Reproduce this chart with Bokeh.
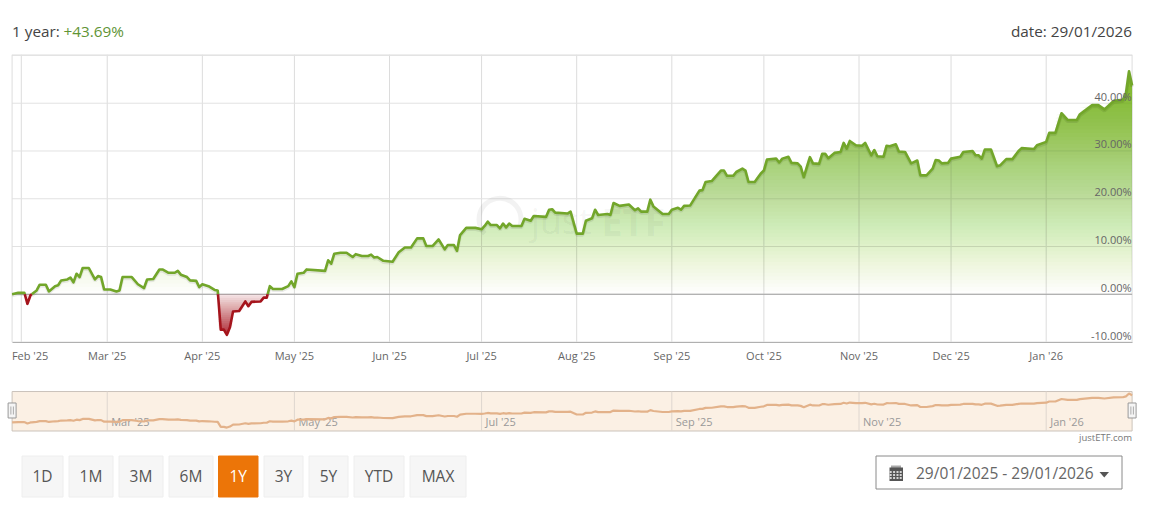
from datetime import datetime, timedelta
import numpy as np
from bokeh.embed import file_html
from bokeh.resources import INLINE
from bokeh.plotting import figure
from bokeh.layouts import column
from bokeh.models import Range1d, FixedTicker
from bokeh.core.properties import value

START = datetime(2025, 1, 29)
days = [0,2,4,5,6,8,9,11,12,14,15,16,18,19,20,21,22,23,25,27,28,29,30,32,34,35,36,39,41,43,44,46,48,49,51,53,54,55,57,58,60,61,62,64,66,67,
        68,69,70,71,72,74,76,77,78,81,82,83,84,85,88,90,91,92,93,95,96,102,103,104,105,107,109,111,112,114,116,117,118,119,121,124,126,128,130,
        132,134,135,137,139,141,142,144,145,146,148,151,153,154,155,156,158,159,160,161,162,163,166,167,169,170,174,175,176,177,181,182,184,186,
        187,189,190,191,194,195,196,198,201,203,204,205,207,208,209,212,214,215,217,218,219,221,224,225,226,228,231,232,233,235,236,238,239,240,
        242,244,245,246,249,250,251,253,254,256,257,258,260,261,263,264,265,266,268,270,271,272,273,275,277,278,280,281,282,284,285,286,288,289,
        291,293,295,296,298,300,301,302,303,305,306,309,310,313,314,315,316,317,319,321,322,324,326,328,329,333,334,337,338,340,342,344,347,348,
        352,354,356,359,362,363,364,365]
pct = [0.0,0.3,0.3,-2.0,-0.2,0.8,2.0,2.0,0.6,1.7,1.9,2.9,3.1,3.5,2.5,4.3,3.6,5.5,5.5,3.1,3.8,3.6,1.0,1.0,0.6,0.8,3.6,3.6,2.1,1.3,3.1,3.2,5.2,5.2,4.5,4.5,4.9,4.1,3.6,2.9,2.8,1.5,2.1,1.7,0.9,0.8,
       -7.4,-7.4,-8.5,-6.9,-3.6,-3.5,-1.5,-2.5,-1.6,-1.5,-0.7,-0.7,1.7,1.1,1.1,1.7,2.7,1.5,4.3,4.5,5.2,4.9,7.1,6.4,8.5,8.7,8.7,7.8,8.4,8.0,8.0,8.3,7.7,7.8,7.0,6.8,8.8,9.8,9.8,
       11.7,11.7,10.1,10.1,11.5,9.4,10.3,10.3,9.1,12.4,13.9,13.9,13.6,14.3,15.2,14.5,14.5,13.8,14.8,14.0,14.8,14.3,14.3,15.8,15.4,16.4,16.2,17.7,17.8,17.1,16.9,17.3,12.7,12.7,
       15.4,15.9,17.7,16.6,16.8,16.6,19.1,18.5,18.8,17.6,18.0,17.3,17.3,19.8,18.4,16.8,16.8,17.7,18.1,17.7,18.5,18.6,21.7,21.8,23.5,23.7,25.9,25.9,24.8,24.8,25.6,26.3,25.9,23.5,
       23.5,25.3,25.9,28.2,28.4,27.6,28.4,28.8,27.5,27.4,26.7,24.5,28.7,27.4,27.3,29.4,29.4,28.5,29.6,29.8,31.7,30.5,32.1,31.2,31.1,31.7,29.1,30.2,28.9,28.8,31.1,31.0,31.4,29.9,
       29.8,27.4,28.0,24.9,24.9,26.3,28.1,28.0,27.4,27.5,28.4,28.8,29.8,30.0,29.1,29.1,28.4,30.3,30.3,26.8,27.0,28.3,28.3,30.0,30.6,30.4,31.2,31.9,33.8,33.8,37.9,36.5,36.5,37.7,
       39.6,39.6,38.7,40.5,40.7,42.1,46.7,43.7]
month_dates = [datetime(2025,2,1),datetime(2025,3,1),datetime(2025,4,1),datetime(2025,5,1),datetime(2025,6,1),datetime(2025,7,1),
               datetime(2025,8,1),datetime(2025,9,1),datetime(2025,10,1),datetime(2025,11,1),datetime(2025,12,1),datetime(2026,1,1)]
month_labels = ["Feb '25","Mar '25","Apr '25","May '25","Jun '25","Jul '25","Aug '25","Sep '25","Oct '25","Nov '25","Dec '25","Jan '26"]
y_ticks = [-10,0,10,20,30,40]
y_labels = ["-10.00%","0.00%","10.00%","20.00%","30.00%","40.00%"]
buttons = ["1D","1M","3M","6M","1Y","3Y","5Y","YTD","MAX"]
button_left = [21.5,68.5,118.5,168.5,218,263.5,308.5,353.5,409.5]
button_right = [62.5,112.5,162.5,212.5,257.5,302.5,347.5,403.5,465.5]

FONT = value("Open Sans")
def ms(d):
    return (d - datetime(1970,1,1)).total_seconds()*1000.0
DAY = 86400000.0
x0 = ms(START); x1 = x0 + 365*DAY
PX = 1120.0/365  # pixels per day
nl = x0 - 11.6/PX*DAY; nr = x1 + 37.4/PX*DAY
Y_TOP, Y_BOT = 50.2, -10.1

d = np.array(days, float); v = np.array(pct, float)
# insert the zero crossings so that the green and red parts meet on the base line
xs, ys = [d[0]], [v[0]]
for a, b, va, vb in zip(d[:-1], d[1:], v[:-1], v[1:]):
    if va*vb < 0:
        xs.append(a + (b-a)*va/(va-vb)); ys.append(0.0)
    xs.append(b); ys.append(vb)
xs = np.array(xs); ys = np.array(ys)
X = x0 + xs*DAY
pos = np.where(ys >= 0, ys, np.nan)
neg = np.where(ys <= 0, ys, np.nan)
month_ms = [ms(m) for m in month_dates]

# ---------- header ----------
head = figure(width=1169, height=54, x_range=Range1d(0,1169), y_range=Range1d(54,0), x_axis_location=None, y_axis_location=None,
              toolbar_location=None, output_backend="svg", min_border=0, outline_line_color=None)
head.grid.visible = False
head.text(x=[11.5], y=[30], text=["1 year:"], text_font=FONT, text_font_size="15.3px", text_color="#444444", text_baseline="middle")
head.text(x=[63], y=[30], text=["+43.69%"], text_font=FONT, text_font_size="15.3px", text_color="#5f9436", text_baseline="middle")
head.text(x=[1131.5], y=[30], text=["date: 29/01/2026"], text_font=FONT, text_font_size="15.3px", text_color="#444444", text_baseline="middle", text_align="right")

# ---------- main chart ----------
p = figure(width=1169, height=326, x_range=Range1d(nl,nr), y_range=Range1d(Y_BOT,Y_TOP), toolbar_location=None, output_backend="svg",
           min_border=0, min_border_bottom=38, outline_line_color=None, y_axis_location=None)
p.grid.visible = False
# the first label is moved clear of the chart's left edge: its tick stands where the text is centred
feb_label_at = x0 + (18)/PX*DAY
axis_ticks = [feb_label_at] + month_ms[1:]
p.xaxis.ticker = FixedTicker(ticks=axis_ticks)
p.xaxis.major_label_overrides = dict(zip(axis_ticks, month_labels))
p.xaxis.major_tick_line_color = None
p.xaxis.minor_tick_line_color = None
p.xaxis.axis_line_color = "#b0b0b0"
p.xaxis.bounds = (x0, x1)
p.xaxis.major_label_text_font = "Open Sans"
p.xaxis.major_label_text_font_size = "11px"
p.xaxis.major_label_text_color = "#666666"
p.xaxis.major_label_standoff = -1

# grid and frame, limited to the chart's own width
p.segment(x0=month_ms, x1=month_ms, y0=[Y_BOT]*12, y1=[Y_TOP]*12, line_color="#dcdcdc", line_width=1)
grid_y = y_ticks + [50]
p.segment(x0=[x0]*len(grid_y), x1=[x1]*len(grid_y), y0=grid_y, y1=grid_y, line_color="#e2e2e2", line_width=1)
p.segment(x0=[x0,x1,x0], x1=[x0,x1,x1], y0=[Y_BOT,Y_BOT,Y_TOP], y1=[Y_TOP,Y_TOP,Y_TOP], line_color="#dddddd", line_width=1)
p.segment(x0=[x0], x1=[x1], y0=[0], y1=[0], line_color="#a0a0a0", line_width=1)

# watermark
p.arc(x=[x0+159*DAY], y=[15.7], radius=21, radius_units="screen", start_angle=-0.4, end_angle=3.9, line_color="#000000", line_alpha=0.05, line_width=5)
p.text(x=[x0+169*DAY], y=[15.4], text=["just"], text_font=FONT, text_font_size="36px", text_color="#000000", text_alpha=0.05, text_baseline="middle")
p.text(x=[x0+192*DAY], y=[15.4], text=["ETF"], text_font=FONT, text_font_size="38px", text_font_style="bold", text_color="#000000", text_alpha=0.05, text_baseline="middle")

def layers(levels, targets, sign, color):
    prev = 0.0
    for lev, A in zip(levels, targets):
        a = 1 - (1-A)/(1-prev)
        prev = A
        if sign > 0:
            p.varea(x=X, y1=np.full_like(ys, lev), y2=np.maximum(ys, lev), fill_color=color, fill_alpha=a)
        else:
            p.varea(x=X, y1=np.full_like(ys, lev), y2=np.minimum(ys, lev), fill_color=color, fill_alpha=a)

g_lev = np.arange(0.0, 46.5, 0.75)
layers(g_lev, np.minimum(0.9, 0.0205*(g_lev+0.4)), 1, "#7fb81e")
r_lev = -np.arange(0.0, 8.5, 0.4)
layers(r_lev, np.minimum(0.88, 0.12 + 0.09*(-r_lev)), -1, "#a8101e")

p.line(X, np.where(ys >= 0, ys-0.28, np.nan), line_color="#000000", line_alpha=0.08, line_width=3.5)
p.line(X, pos, line_color="#72a62a", line_width=2.6, line_join="round")
p.line(X, neg, line_color="#a5141c", line_width=2.6, line_join="round")

p.text(x=[x1]*len(y_ticks), y=y_ticks, text=y_labels, text_font=FONT, text_font_size="11px", text_color="#666666",
       text_align="right", text_baseline="middle", y_offset=-7, x_offset=-0.5)

# ---------- navigator ----------
nav = figure(width=1169, height=64, x_range=Range1d(nl,nr), y_range=Range1d(-36.0,67.9), x_axis_location=None, y_axis_location=None,
             toolbar_location=None, output_backend="svg", min_border=0, outline_line_color=None)
nav.grid.visible = False
nav.quad(left=[x0], right=[x1], bottom=[-14.1], top=[50], fill_color="#fbf0e4", line_color="#cbc3bb", line_width=1)
odd = month_ms[1::2]; odd_lab = month_labels[1::2]
nav.segment(x0=odd, x1=odd, y0=[-14.1]*len(odd), y1=[50]*len(odd), line_color="#ded6cf", line_width=1)
nav.text(x=odd, y=[1.4]*len(odd), text=odd_lab, text_font=FONT, text_font_size="11px", text_color="#999999", text_baseline="middle", x_offset=4, y_offset=0)
nav.line(X, ys, line_color="#e3b28a", line_width=2.2)
for hx in (x0, x1):
    nav.rect(x=[hx], y=[19.2], width=8, height=15, width_units="screen", height_units="screen", fill_color="#f5f5f5", line_color="#999999")
    nav.rect(x=[hx-1.2/PX*DAY, hx+1.2/PX*DAY], y=[19.2,19.2], width=0.8, height=8, width_units="screen", height_units="screen", fill_color="#999999", line_color=None)
nav.text(x=[x1], y=[-24.2], text=["justETF.com"], text_font=FONT, text_font_size="9.5px", text_color="#777777", text_align="right", text_baseline="middle")

# ---------- controls ----------
c = figure(width=1169, height=66, x_range=Range1d(0,1169), y_range=Range1d(510,444), x_axis_location=None, y_axis_location=None,
           toolbar_location=None, output_backend="svg", min_border=0, outline_line_color=None)
c.grid.visible = False
fills = ["#ec7508" if b == "1Y" else "#f6f6f6" for b in buttons]
lines = ["#ec7508" if b == "1Y" else "#eeeeee" for b in buttons]
c.quad(left=button_left, right=button_right, top=[455.5]*len(buttons), bottom=[496.5]*len(buttons), fill_color=fills, line_color=lines)
c.text(x=[(a+b)/2 for a,b in zip(button_left,button_right)], y=[475.5]*len(buttons), text=buttons, text_font=FONT, text_font_size="15.5px",
       text_align="center", text_baseline="middle", text_color=["#ffffff" if b == "1Y" else "#555555" for b in buttons])
c.quad(left=[875.5], right=[1121.5], top=[455.5], bottom=[488.5], fill_color="#ffffff", line_color="#8a8a8a")
c.text(x=[915.5], y=[472], text=["29/01/2025 - 29/01/2026"], text_font=FONT, text_font_size="15.5px", text_color="#666666", text_baseline="middle")
c.patch(x=[1099,1108.5,1103.75], y=[471.5,471.5,477], fill_color="#555555", line_color=None)
c.quad(left=[889], right=[902.5], top=[467], bottom=[480.5], fill_color="#555555", line_color=None)
c.quad(left=[891,893,895,897,899], right=[892,894,896,898,900], top=[465]*5, bottom=[468]*5, fill_color="#555555", line_color=None)
cx = [890.2,893.6,897,900.2]*3
cy = [471.5]*4+[474.5]*4+[477.5]*4
c.rect(x=cx, y=cy, width=2, height=1.6, fill_color="#ffffff", line_color=None)

page = column(head, p, nav, c, spacing=0)
open("out.html","w").write(file_html(page, INLINE))
